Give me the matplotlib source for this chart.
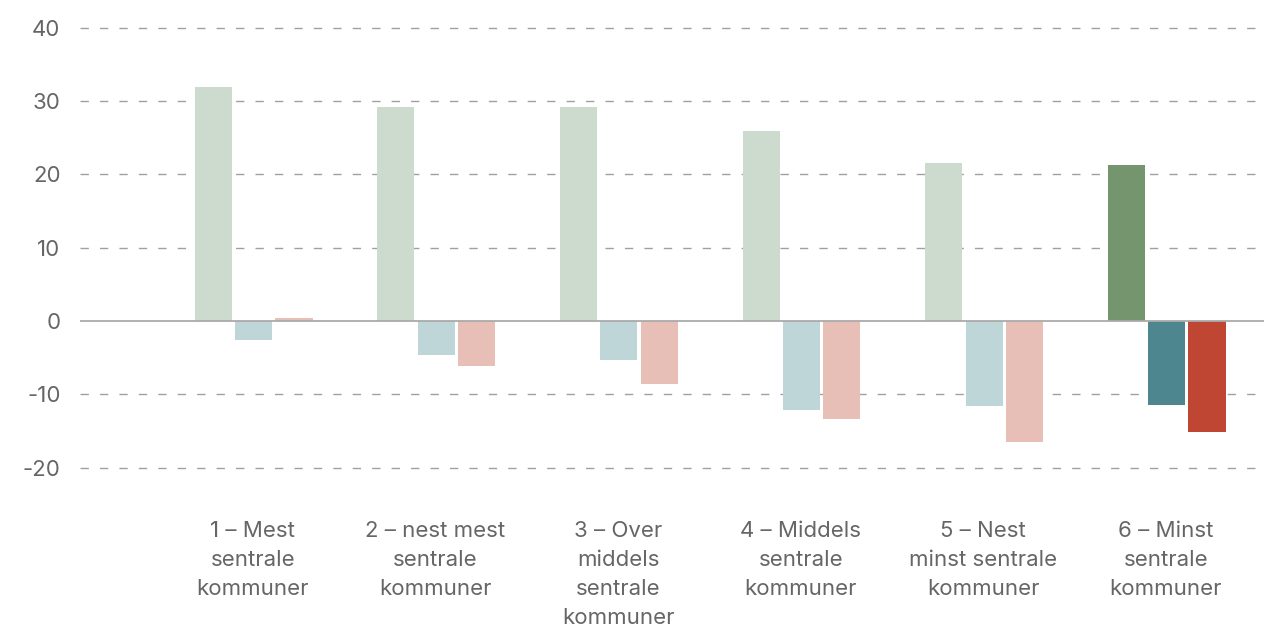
import matplotlib
matplotlib.use("Agg")
import matplotlib.pyplot as plt
import numpy as np

plt.rcParams['font.family'] = ['Inter', 'DejaVu Sans']
plt.rcParams['lines.scale_dashes'] = False

categories = ["1 – Mest\nsentrale\nkommuner",
              "2 – nest mest\nsentrale\nkommuner",
              "3 – Over\nmiddels\nsentrale\nkommuner",
              "4 – Middels\nsentrale\nkommuner",
              "5 – Nest\nminst sentrale\nkommuner",
              "6 – Minst\nsentrale\nkommuner"]
serie_a = [31.9, 29.2, 29.2, 25.9, 21.6, 21.3]
serie_b = [-2.6, -4.6, -5.3, -12.1, -11.6, -11.5]
serie_c = [0.4, -6.1, -8.6, -13.4, -16.5, -15.1]
yticks = [-20, -10, 0, 10, 20, 30, 40]

light = ["#cddbcf", "#bfd6d8", "#e7bfb7"]
strong = ["#74956d", "#4e8690", "#bf4633"]

fig = plt.figure(figsize=(12.64, 6.27), dpi=100)
ax = fig.add_axes([80 / 1264, 0.2308, 1 - 80 / 1264, 0.7365])

x = np.arange(len(categories))
w = 0.203
off = 0.221
for i, (vals, o) in enumerate(zip([serie_a, serie_b, serie_c], [-off, 0, off])):
    cols = [light[i]] * (len(x) - 1) + [strong[i]]
    ax.bar(x + o + 0.004, vals, width=w, color=cols, zorder=2)

ax.axhline(0, color="#aaaaaa", lw=1.3, zorder=3)
for t in yticks:
    if t != 0:
        ax.axhline(t, color="#a0a0a0", lw=1.0, dashes=(6, 8), zorder=1)

ax.set_xlim(-0.947, 5.537)
ax.set_ylim(-22, 41)
ax.set_yticks(yticks)
ax.set_yticklabels([str(t) for t in yticks])
ax.set_xticks(x)
ax.set_xticklabels(categories, linespacing=1.56)
ax.tick_params(axis='y', length=0, pad=14, labelsize=16, labelcolor="#666666")
ax.tick_params(axis='x', length=0, pad=28, labelsize=16, labelcolor="#666666")
for s in ax.spines.values():
    s.set_visible(False)

fig.savefig("out.png", dpi=100)
